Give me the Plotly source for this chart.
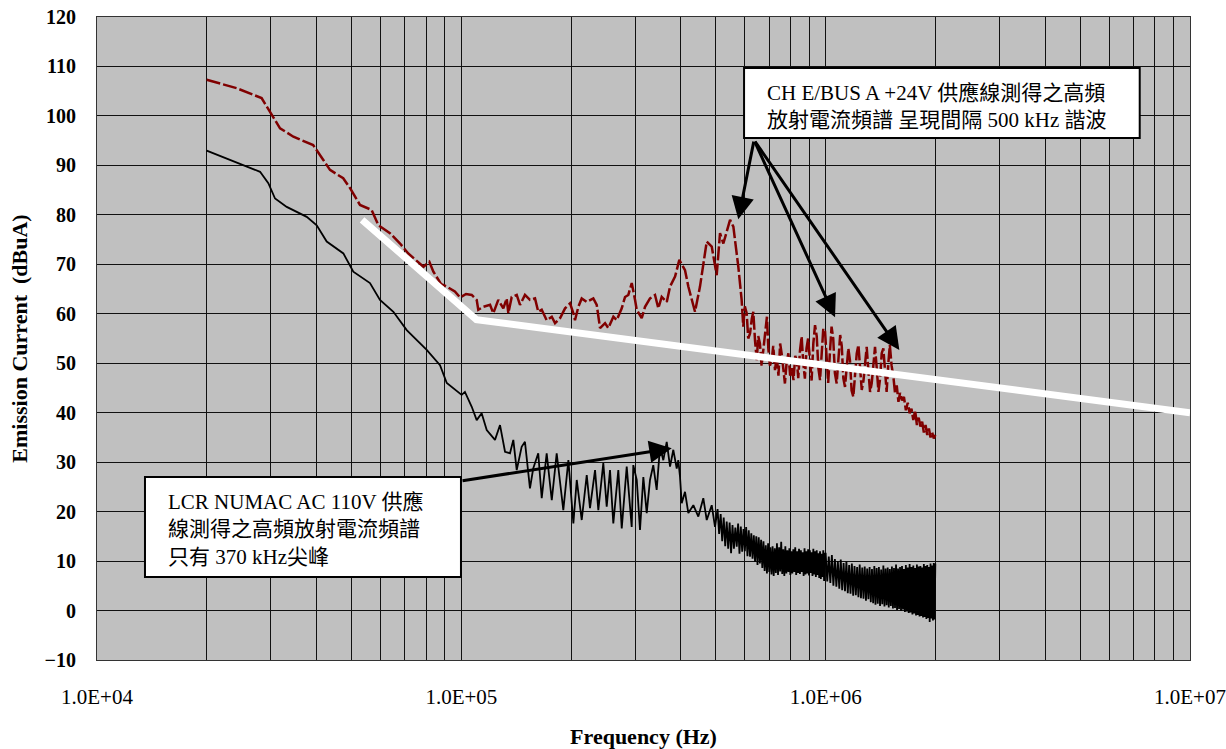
import numpy as np
import plotly.graph_objects as go

# ---------------- data (frequency in kHz, level in dBuA) ----------------
# CH E/BUS A +24V supply line emission (dark red, dashed)
red_points = [
    (20.0, 107.3), (24.2, 105.6), (28.3, 103.6), (29.8, 100.9), (31.8, 97.5), (34.6, 95.8),
    (39.2, 94.1), (41.8, 91.1), (43.6, 89.1), (47.4, 87.4), (49.5, 85.4), (52.7, 82.0),
    (56.7, 81.0), (59.2, 77.9), (63.7, 76.3), (67.9, 74.2), (71.5, 72.2), (78.7, 69.5),
    (81.7, 70.5), (83.8, 68.5), (88.0, 66.0), (91.2, 65.5), (96.0, 64.5), (99.2, 63.3),
    (103.0, 64.0), (106.8, 63.8), (110.2, 62.8), (111.3, 60.8), (115.0, 61.4), (119.9, 61.8),
    (122.4, 60.1), (126.3, 62.8), (130.4, 61.1), (133.2, 63.1), (134.6, 60.1), (137.5, 63.4),
    (141.9, 63.8), (144.9, 61.8), (149.5, 63.8), (154.3, 62.8), (159.3, 63.1), (162.6, 60.4),
    (166.2, 60.8), (171.5, 58.7), (177.1, 59.4), (180.8, 58.1), (186.6, 59.1), (192.6, 61.1),
    (198.8, 62.1), (203.0, 60.1), (205.1, 58.7), (209.5, 61.4), (214.0, 63.1), (220.9, 62.4),
    (230.3, 63.1), (235.3, 61.8), (240.3, 57.1), (248.0, 58.1), (253.2, 57.1), (261.4, 59.4),
    (267.0, 58.7), (275.6, 61.1), (281.4, 63.4), (287.3, 63.8), (293.6, 66.2), (299.8, 62.8),
    (303.0, 60.8), (312.7, 59.1), (319.3, 61.4), (329.5, 63.1), (340.1, 63.8), (347.3, 61.1),
    (354.8, 63.4), (366.3, 62.4), (374.0, 65.5), (386.0, 67.5), (396.6, 70.9), (411.1, 68.8),
    (419.8, 65.5), (437.9, 60.4), (451.9, 65.5), (471.6, 74.6), (486.7, 73.6), (502.2, 67.8),
    (512.9, 76.3), (523.8, 74.2), (535.2, 76.9), (546.5, 79.0), (558.0, 77.6), (575.8, 69.5),
    (588, 62.8), (594, 57.4), (600, 61.5), (607, 60.1), (613, 55.0), (620, 56.0), (627, 59.0),
    (633, 60.4), (640, 54.5), (647, 50.6), (653, 55.5), (660, 54.0), (667, 49.5), (674, 52.7),
    (682, 57.0), (690, 59.4), (696, 53.0), (703, 49.5), (711, 50.6), (718, 53.5), (726, 48.6),
    (734, 51.5), (742, 47.5), (750, 54.0), (757, 52.0), (765, 49.0), (773, 45.9), (781, 50.0),
    (790, 52.0), (799, 47.5), (808, 49.0), (816, 46.6), (825, 51.5), (833, 50.6), (841, 47.0),
    (850, 52.5), (859, 55.4), (868, 50.0), (877, 46.9), (886, 53.0), (895, 55.0), (906, 50.5),
    (915, 46.5), (925, 54.0), (935, 57.7), (945, 55.5), (955, 49.0), (965, 46.6), (975, 53.0),
    (985, 57.0), (996, 56.5), (1006, 50.0), (1016, 46.0), (1027, 52.0), (1038, 57.4), (1049, 55.0),
    (1060, 48.0), (1072, 45.9), (1084, 50.5), (1096, 55.7), (1107, 53.5), (1118, 47.0), (1130, 45.2),
    (1142, 49.0), (1154, 53.0), (1166, 50.6), (1178, 44.5), (1191, 43.2), (1204, 47.5), (1217, 52.0),
    (1230, 53.7), (1243, 49.0), (1256, 44.6), (1270, 46.5), (1284, 51.0), (1296, 53.3), (1310, 48.5),
    (1324, 44.2), (1338, 46.0), (1352, 50.5), (1366, 53.3), (1381, 49.0), (1396, 44.2), (1411, 47.0),
    (1425, 52.0), (1440, 53.0), (1455, 47.5), (1470, 44.2), (1486, 50.0), (1500, 53.7), (1517, 49.5),
    (1534, 47.3), (1550, 44.0), (1567, 45.5), (1584, 42.2), (1600, 44.0), (1620, 42.5), (1640, 43.2),
    (1660, 40.5), (1680, 42.0), (1700, 39.9), (1720, 40.8), (1740, 38.5), (1760, 40.5), (1780, 37.5),
    (1800, 39.0), (1820, 37.2), (1840, 38.2), (1860, 36.0), (1880, 37.5), (1900, 35.5), (1920, 36.8),
    (1940, 35.0), (1960, 36.0), (1980, 34.8), (2000, 35.5),
]

# LCR NUMAC AC 110V supply line emission (black)
black_smooth = [
    (20.0, 93.0), (25.76, 89.7), (28.03, 88.7), (29.53, 86.4), (30.81, 83.3), (33.17, 81.6),
    (37.64, 79.6), (40.09, 77.9), (42.71, 74.6), (47.45, 72.2), (50.52, 68.5), (56.14, 66.2),
    (59.80, 62.8), (65.08, 60.4), (70.81, 56.7), (80.34, 52.7), (87.40, 49.6), (91.2, 46.0),
]
black_ripple = [
    (100.2, 43.6), (102.3, 44.2), (106.8, 41.2), (110.2, 38.5), (113.7, 39.9), (117.4, 36.5),
    (123.7, 34.5), (127.7, 37.5), (131.8, 32.1), (136.0, 31.8), (138.9, 34.5), (141.9, 28.4),
    (146.4, 33.1), (149.5, 34.1), (154.3, 24.7), (157.5, 28.7), (162.6, 31.8), (166.2, 22.7),
    (171.5, 31.8), (177.1, 22.3), (182.7, 31.8), (190.5, 20.3), (196.7, 30.4), (203.0, 17.6),
    (207.4, 26.4), (214.0, 18.3), (220.9, 27.4), (225.5, 20.7), (232.8, 28.4), (237.7, 20.3),
    (245.3, 29.8), (250.6, 21.0), (255.9, 28.4), (261.3, 17.6), (269.7, 28.4), (275.6, 16.6),
    (284.4, 29.1), (293.5, 16.9), (296.5, 29.4), (303.0, 26.4), (309.3, 16.3), (315.9, 27.0),
    (322.7, 19.7), (329.5, 26.4), (336.4, 29.4), (343.7, 24.4), (351.0, 33.1), (358.4, 30.4),
    (366.2, 34.1), (374.0, 29.1), (381.8, 32.5), (390.1, 28.7), (394.0, 30.4), (398.3, 27.0),
    (402.6, 21.7), (411.1, 24.0), (419.8, 19.7), (433.3, 21.3), (447.2, 19.0), (461.5, 22.7),
    (471.6, 18.3), (486.7, 21.3), (496.9, 16.9),
]
black_dense = [
    (505, 20.5), (510, 15.5), (515, 19.5), (520, 14.0), (525, 18.8), (530, 13.0), (535, 18.0),
    (540, 12.5), (545, 17.8), (550, 11.6), (555, 17.3), (560, 12.5), (565, 16.8), (570, 12.9),
    (575, 17.6), (580, 11.5), (585, 17.0), (590, 11.9), (595, 16.5), (600, 12.0), (605, 16.9),
    (610, 11.0), (615, 16.2), (620, 10.9), (625, 15.6), (630, 10.5), (635, 15.2), (640, 9.8),
    (645, 15.0), (650, 9.2), (655, 14.8), (660, 9.5), (665, 14.3), (670, 8.6), (675, 14.0),
    (680, 8.0), (685, 13.2), (690, 7.5), (695, 13.6), (700, 7.8), (705, 12.8), (710, 7.3),
    (715, 13.0), (720, 7.0), (725, 12.6), (730, 7.6), (735, 13.6), (740, 7.2), (745, 12.8),
    (750, 7.9), (755, 13.9), (760, 7.4), (765, 12.4), (770, 7.0), (775, 13.0), (780, 7.5),
    (785, 12.2), (790, 7.8), (795, 12.6), (800, 7.2), (805, 12.0), (810, 7.5), (815, 12.4),
    (820, 7.8), (825, 12.8), (830, 7.2), (835, 12.0), (840, 7.6), (845, 12.5), (850, 7.4),
    (855, 12.2), (860, 7.8), (865, 11.8), (870, 7.0), (875, 12.6), (880, 7.3), (885, 12.0),
    (890, 7.5), (895, 12.4), (900, 7.1), (905, 12.2), (910, 7.6), (915, 11.8), (920, 7.0),
    (925, 12.5), (930, 7.3), (935, 12.0), (940, 6.8), (945, 12.2), (950, 7.2), (955, 11.6),
    (960, 6.6), (965, 12.0), (970, 6.4), (975, 11.5), (980, 6.8), (985, 12.2), (990, 6.0),
    (995, 11.5),
]
black_band = [
    (1000, 11.5), (1010, 5.9), (1020, 10.9), (1030, 5.6), (1040, 11.2), (1050, 5.0), (1060, 10.4),
    (1070, 4.8), (1080, 10.0), (1090, 4.4), (1100, 10.3), (1110, 4.1), (1120, 9.6), (1130, 3.9),
    (1140, 9.9), (1150, 3.5), (1160, 9.2), (1170, 3.4), (1180, 9.5), (1190, 3.0), (1200, 9.0),
    (1210, 3.1), (1220, 8.8), (1230, 2.7), (1240, 9.3), (1250, 2.5), (1260, 8.7), (1270, 2.4),
    (1280, 8.9), (1290, 2.0), (1300, 8.5), (1310, 2.3), (1320, 8.8), (1330, 1.7), (1340, 8.4),
    (1350, 1.5), (1360, 9.0), (1370, 1.2), (1380, 8.6), (1390, 1.4), (1400, 8.8), (1410, 0.9),
    (1420, 8.3), (1430, 1.3), (1440, 9.1), (1450, 0.8), (1460, 8.5), (1470, 1.1), (1480, 8.7),
    (1490, 0.6), (1500, 8.4), (1510, 0.9), (1520, 8.9), (1530, 0.4), (1540, 8.6), (1550, 0.5),
    (1560, 9.3), (1570, 0.1), (1580, 8.5), (1590, 0.3), (1600, 8.8), (1610, -0.1), (1620, 9.0),
    (1630, 0.2), (1640, 8.4), (1650, -0.3), (1660, 9.2), (1670, -0.2), (1680, 8.7), (1690, -0.5),
    (1700, 9.4), (1710, -0.4), (1720, 8.8), (1730, -0.8), (1740, 9.1), (1750, -0.6), (1760, 8.6),
    (1770, -1.0), (1780, 9.3), (1790, -0.9), (1800, 8.9), (1810, -1.2), (1820, 9.0), (1830, -1.1),
    (1840, 8.7), (1850, -1.4), (1860, 9.4), (1870, -1.3), (1880, 9.0), (1890, -1.7), (1900, 9.2),
    (1910, -1.5), (1920, 8.8), (1930, -2.3), (1940, 9.5), (1950, -1.6), (1960, 9.1), (1970, -2.0),
    (1980, 9.6), (1990, -1.8), (2000, 9.5),
]

# limit line (white)
limit_points = [(53.4, 79.0), (110.0, 58.8), (10000.0, 40.0)]

# axis ticks
x_decades = [1e4, 1e5, 1e6, 1e7]
x_decade_labels = ["1.0E+04", "1.0E+05", "1.0E+06", "1.0E+07"]
y_ticks = [-10, 0, 10, 20, 30, 40, 50, 60, 70, 80, 90, 100, 110, 120]

# annotation targets (Hz, dBuA)
harmonic_arrow_tail = (636e3, 95.1)
harmonic_arrow_tips = [(575.7e3, 79.1), (1.061e6, 59.3), (1.593e6, 52.7)]
peak_arrow_tail = (99.8e3, 26.2)
peak_arrow_tip = (378e3, 32.8)

box1_text = "CH E/BUS A +24V 供應線測得之高頻<br>放射電流頻譜 呈現間隔 500 kHz 諧波"
box2_text = "LCR NUMAC AC 110V 供應<br>線測得之高頻放射電流頻譜<br>只有 370 kHz尖峰"

# ---------------- figure ----------------
FONT = "Liberation Serif, Times New Roman, Noto Sans CJK TC, serif"


def unzip(points):
    return [p[0] * 1e3 for p in points], [p[1] for p in points]


black_all = black_smooth + black_ripple + black_dense + black_band
bx, by = unzip(black_all)
rx, ry = unzip(red_points)
lx, ly = unzip(limit_points)

fig = go.Figure()
fig.add_trace(go.Scatter(x=bx, y=by, mode="lines",
                         line=dict(color="black", width=1.8), showlegend=False))
fig.add_trace(go.Scatter(x=rx, y=ry, mode="lines",
                         line=dict(color="#800000", width=2.5, dash="14px,3px"), showlegend=False))
fig.add_trace(go.Scatter(x=lx, y=ly, mode="lines",
                         line=dict(color="white", width=7), showlegend=False))

grid_vals = [k * 10 ** n for n in (4, 5, 6) for k in range(1, 10)] + [1e7]
grid_text = [x_decade_labels[x_decades.index(v)] if v in x_decades else "" for v in grid_vals]

fig.update_xaxes(
    type="log", range=[4, 7], tickvals=grid_vals, ticktext=grid_text, automargin=False,
    showgrid=True, gridcolor="#111111", gridwidth=1,
    showline=True, linecolor="#333333", linewidth=1, mirror=True,
    ticks="", tickfont=dict(family=FONT, size=21, color="black"),
    ticklabelstandoff=18,
    title=dict(text="<b>Frequency (Hz)</b>", font=dict(family=FONT, size=22, color="black"), standoff=22),
)
fig.update_yaxes(
    range=[-10, 120], tickvals=y_ticks, automargin=False,
    showgrid=True, gridcolor="#111111", gridwidth=1, zeroline=False,
    showline=True, linecolor="#333333", linewidth=1, mirror=True,
    ticks="", tickfont=dict(family=FONT, size=20, color="black", weight="bold"),
    ticklabelstandoff=16,
    title=dict(text="<b>Emission Current  (dBuA)</b>", font=dict(family=FONT, size=22, color="black"), standoff=10),
)

annotations = []
for tip in harmonic_arrow_tips:
    annotations.append(dict(
        x=np.log10(tip[0]), y=tip[1], xref="x", yref="y",
        ax=np.log10(harmonic_arrow_tail[0]), ay=harmonic_arrow_tail[1], axref="x", ayref="y",
        text="", showarrow=True, arrowhead=2, arrowsize=1.5, arrowwidth=3, arrowcolor="black",
        standoff=0, startstandoff=0))
annotations.append(dict(
    x=np.log10(peak_arrow_tip[0]), y=peak_arrow_tip[1], xref="x", yref="y",
    ax=np.log10(peak_arrow_tail[0]), ay=peak_arrow_tail[1], axref="x", ayref="y",
    text="", showarrow=True, arrowhead=2, arrowsize=1.5, arrowwidth=3, arrowcolor="black",
    standoff=0, startstandoff=0))

annotations.append(dict(
    x=0.6112, y=0.8608, xref="paper", yref="paper", xanchor="left", yanchor="middle",
    text=box1_text, showarrow=False, align="left",
    font=dict(family=FONT, size=21, color="black")))
annotations.append(dict(
    x=0.0631, y=0.203, xref="paper", yref="paper", xanchor="left", yanchor="middle",
    text=box2_text, showarrow=False, align="left",
    font=dict(family=FONT, size=21, color="black")))

shapes = [
    dict(type="rect", xref="paper", yref="paper", x0=0.592, x1=0.954, y0=0.8118, y1=0.9207,
         fillcolor="white", line=dict(color="black", width=2), layer="above"),
    dict(type="rect", xref="paper", yref="paper", x0=0.0439, x1=0.333, y0=0.129, y1=0.2846,
         fillcolor="white", line=dict(color="black", width=2), layer="above"),
]

fig.update_layout(
    width=1226, height=749, autosize=False,
    margin=dict(l=97, r=36, t=17, b=89, pad=0),
    plot_bgcolor="#C0C0C0", paper_bgcolor="white",
    font=dict(family=FONT, color="black"),
    annotations=annotations, shapes=shapes, showlegend=False,
)

fig.write_html("out.html")
